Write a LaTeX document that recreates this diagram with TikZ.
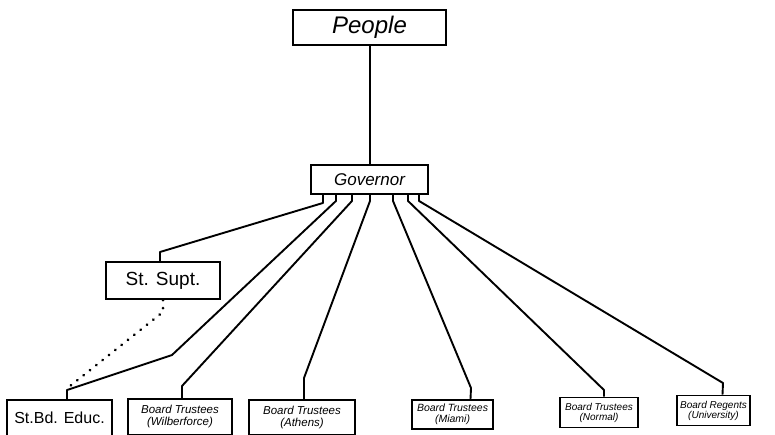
\documentclass[tikz,border=0pt]{standalone}
\usepackage{fontspec}
\setmainfont{Liberation Sans}
\begin{document}
\begin{tikzpicture}[x=1pt,y=-1pt,
  box/.style={draw,line width=1.9pt,inner sep=0pt,align=center},
  link/.style={line width=1.9pt,line join=round},
  dots/.style={line width=3pt,line cap=round,dash pattern=on 0.1pt off 8pt}]
\useasboundingbox[fill=white] (0,0) rectangle (775,434);

% offices
\node[box,minimum width=153pt,minimum height=35pt,font=\fontsize{24}{26}\selectfont\itshape] (people) at (369.5,27.5) {People};
\node[box,minimum width=117pt,minimum height=29pt,font=\fontsize{17}{19}\selectfont\itshape] (gov) at (369.5,179.5) {Governor};
\node[box,minimum width=114pt,minimum height=37pt,font=\fontsize{19}{21}\selectfont] (supt) at (163,280.5) {St. Supt.};

% boards
\node[box,minimum width=105pt,minimum height=36pt,font=\fontsize{16}{18}\selectfont] (stbd) at (59.5,418) {St.Bd. Educ.};
\node[box,minimum width=104pt,minimum height=36pt,font=\fontsize{11.5}{12}\selectfont\itshape] (wil) at (180,417) {Board Trustees\\(Wilberforce)};
\node[box,minimum width=106pt,minimum height=35pt,font=\fontsize{11.5}{12}\selectfont\itshape] (ath) at (302,417.5) {Board Trustees\\(Athens)};
\node[box,minimum width=81pt,minimum height=29pt,font=\fontsize{10.5}{10.5}\selectfont\itshape] (mia) at (452.5,414.5) {Board Trustees\\(Miami)};
\node[box,minimum width=78pt,minimum height=30pt,font=\fontsize{10}{10}\selectfont\itshape] (nor) at (599,412.5) {Board Trustees\\(Normal)};
\node[box,minimum width=73pt,minimum height=30pt,font=\fontsize{10}{10}\selectfont\itshape] (uni) at (713.5,410.5) {Board Regents\\(University)};

% lines of authority
\draw[link] ([xshift=0.5pt]people.south) -- ([xshift=0.5pt]gov.north);
\draw[link] ([xshift=-46.5pt]gov.south) -- ++(0,8) -- (160,252) -- ([xshift=-3pt]supt.north);
\draw[link] ([xshift=-33.5pt]gov.south) -- ++(0,6) -- (172,355) -- (67,390) -- ([xshift=7.5pt]stbd.north);
\draw[link] ([xshift=-17.5pt]gov.south) -- ++(0,6) -- (182,386) -- ([xshift=2pt]wil.north);
\draw[link] ([xshift=0.5pt]gov.south) -- ++(0,6) -- (304,378) -- ([xshift=2pt]ath.north);
\draw[link] ([xshift=23.5pt]gov.south) -- ++(0,6) -- (471,388) -- ([xshift=18pt]mia.north);
\draw[link] ([xshift=38.5pt]gov.south) -- ++(0,6) -- (604,390) -- ([xshift=5pt]nor.north);
\draw[link] ([xshift=49.5pt]gov.south) -- ++(0,6) -- (723,383) -- ([xshift=9pt]uni.north);

% advisory tie
\draw[dots] (supt.south) -- ++(0,12) -- ([xshift=8pt,yshift=11pt]stbd.north);
\end{tikzpicture}
\end{document}
